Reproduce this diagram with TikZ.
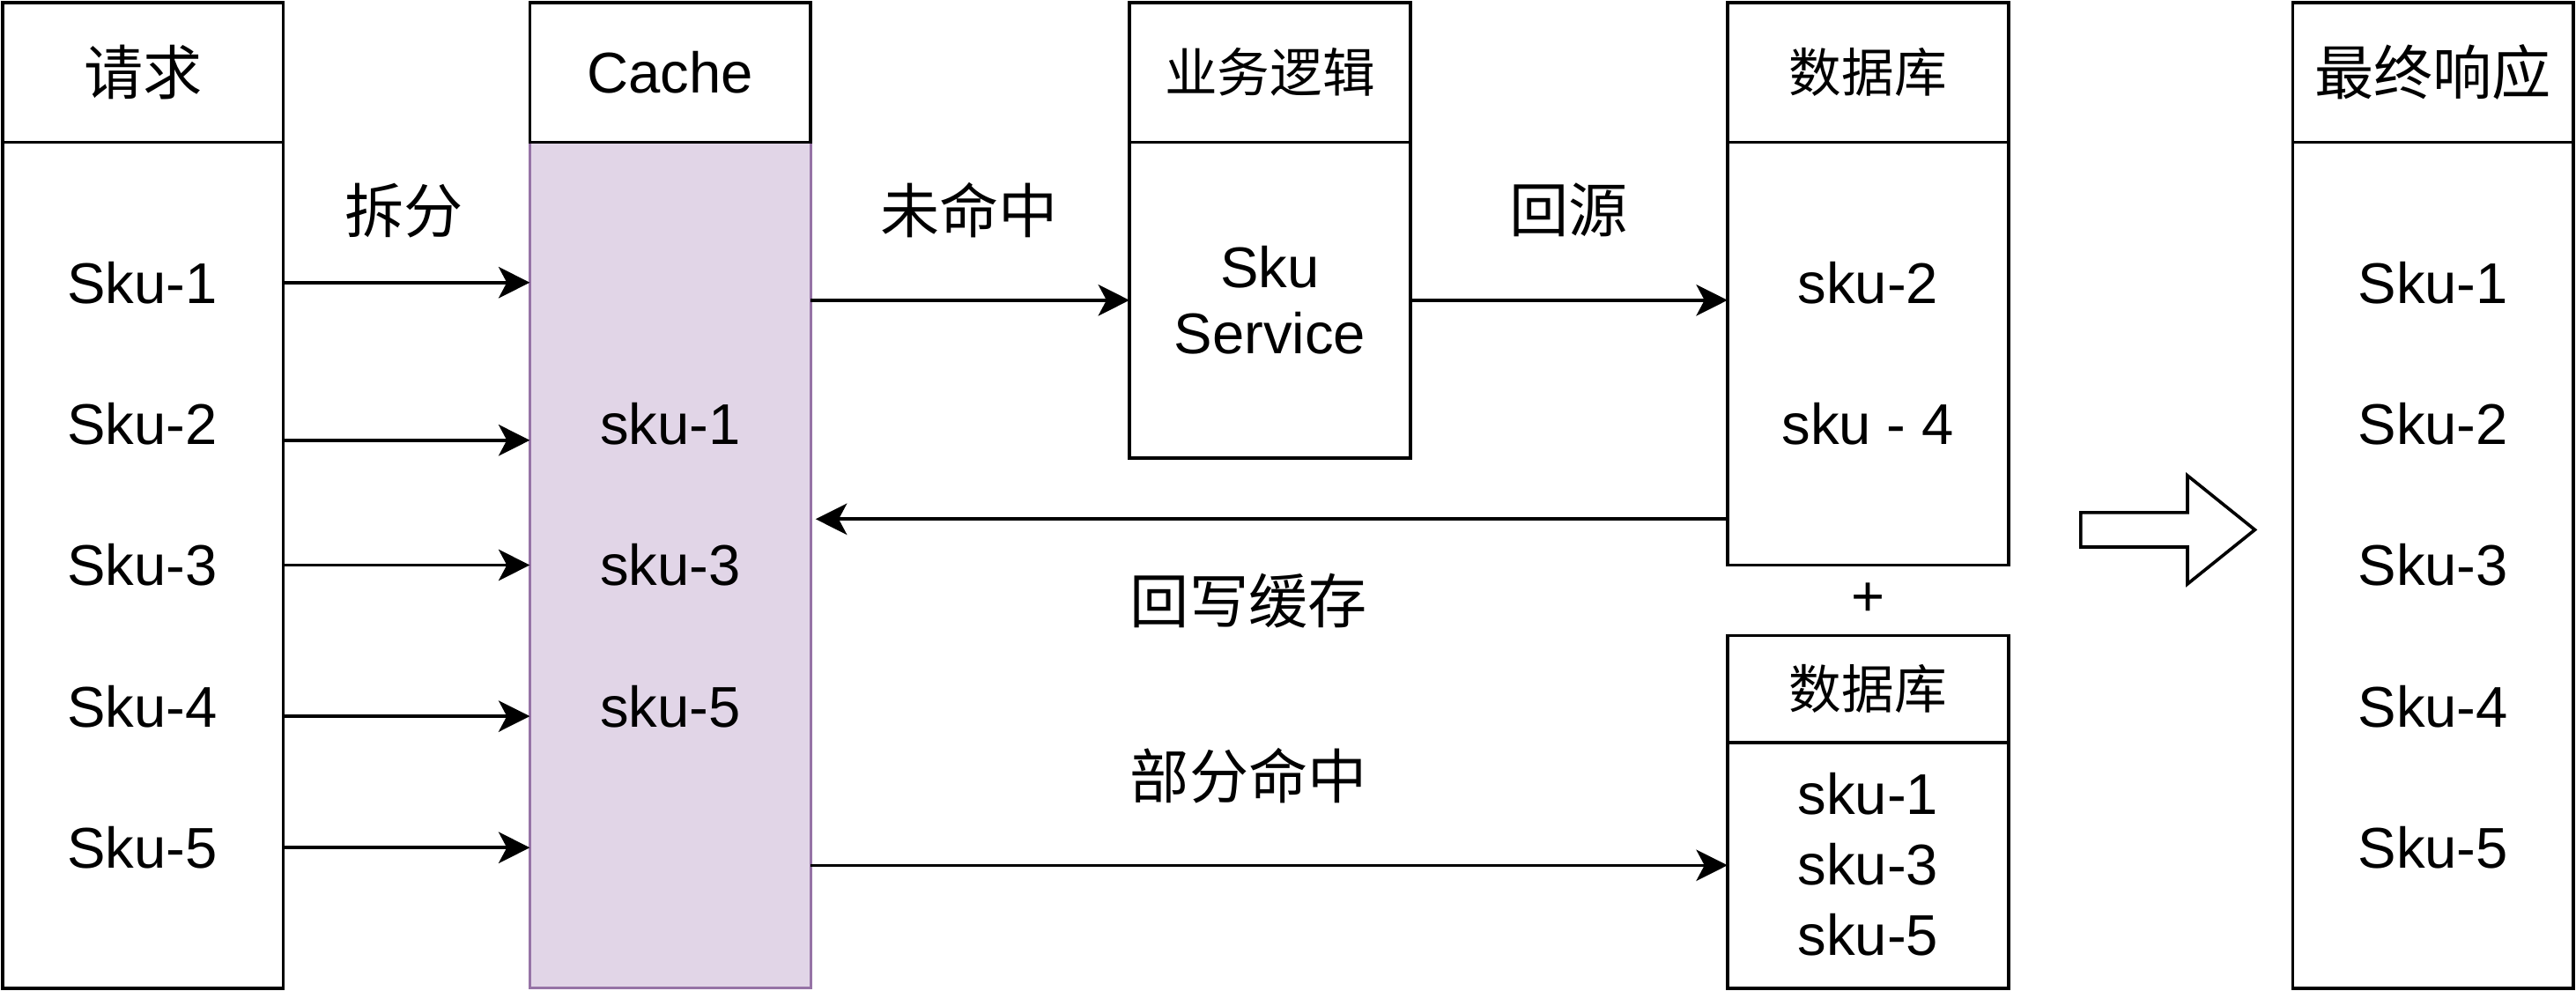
\documentclass[tikz,border=0pt]{standalone}
\usepackage{fontspec}
\setmainfont{Liberation Sans}
\newfontfamily\cjk{Noto Sans CJK SC}
\usepackage{xcolor}
\usetikzlibrary{positioning,arrows.meta}
\definecolor{cacheFill}{HTML}{E1D5E7}
\definecolor{cacheLine}{HTML}{9673A6}

\begin{document}
\begin{tikzpicture}[
    colhead/.style={draw,line width=1.1pt,minimum width=3.42cm,inner sep=0pt,outer sep=0pt,anchor=north west},
    colbody/.style={draw,line width=1.1pt,minimum width=3.42cm,inner sep=0pt,outer sep=0pt},
    flow/.style={line width=1.1pt,-{Stealth[length=0.38cm,width=0.38cm,inset=0.1cm]}},
    lat/.style={font=\fontsize{19.9}{25}\selectfont},
    han/.style={font=\fontsize{20.5}{25}\cjk},
    hansmall/.style={font=\fontsize{18.2}{22}\cjk}
  ]
    \pgfmathsetmacro{\topEdge}{-0.03}
    \pgfmathsetmacro{\headHeight}{1.70}
    \pgfmathsetmacro{\fullBody}{10.30}

    \useasboundingbox (0,0) rectangle (31.36,-12.06);

    % Spalte Anfrage
    \node[colhead,han,minimum height=\headHeight cm] (reqHead) at (0.03,\topEdge) {请求};
    \node[colbody,minimum height=\fullBody cm,below=0pt of reqHead] (reqBody) {};

    % Cache
    \node[colbody,fill=cacheFill,draw=cacheLine,line width=0.8pt,minimum height=\fullBody cm,
      anchor=north] (cacheBody) at (8.16,\topEdge-\headHeight) {};
    \node[colhead,lat,minimum height=\headHeight cm] (cacheHead) at (6.45,\topEdge) {Cache};

    % Service
    \node[colhead,hansmall,minimum height=\headHeight cm] (svcHead) at (13.75,\topEdge) {业务逻辑};
    \node[colbody,lat,align=center,minimum height=3.85cm,below=0pt of svcHead] (svcBody) {Sku\\[-2pt]Service};

    % Datenbank oben
    \node[colhead,hansmall,minimum height=\headHeight cm] (dbHead) at (21.03,\topEdge) {数据库};
    \node[colbody,minimum height=5.15cm,below=0pt of dbHead] (dbBody) {};
    \node[lat] (dbSkuTwo) at (22.74,-3.44) {sku-2};
    \node[lat] (dbSkuFour) at (22.74,-5.16) {sku - 4};
    \node[lat] (plus) at (22.74,-7.30) {+};

    % Datenbank unten
    \node[colhead,hansmall,minimum height=1.30cm] (dbHeadB) at (21.03,-7.74) {数据库};
    \node[colbody,minimum height=2.99cm,below=0pt of dbHeadB] (dbBodyB) {};
    \foreach \i/\y in {1/-9.66,3/-10.52,5/-11.38}
      \node[lat] (dbHit\i) at (22.74,\y) {sku-\i};

    % Antwort
    \node[colhead,han,minimum height=\headHeight cm] (respHead) at (27.91,\topEdge) {最终响应};
    \node[colbody,minimum height=\fullBody cm,below=0pt of respHead] (respBody) {};

    % Eintraege
    \foreach \i/\y in {1/-3.44,2/-5.16,3/-6.88,4/-8.60,5/-10.32} {
      \node[lat] (req\i) at (1.73,\y) {Sku-\i};
      \node[lat] (resp\i) at (29.62,\y) {Sku-\i};
    }
    \foreach \i/\y in {1/-5.16,3/-6.88,5/-8.60}
      \node[lat] (hit\i) at (8.16,\y) {sku-\i};

    % Aufteilen
    \foreach \i/\dy in {1/0,2/-0.2,3/0,4/-0.12,5/0}
      \draw[flow] ([yshift=\dy cm]reqBody.east |- req\i) -- ([yshift=\dy cm]cacheBody.west |- req\i);

    % Fehlschlag und Rueckgriff
    \draw[flow] (cacheBody.east |- svcBody.west) -- (svcBody.west);
    \draw[flow] (svcBody.east) -- (dbBody.west |- svcBody.east);

    % Zurueckschreiben
    \coordinate (wbStart) at ([yshift=0.56cm]dbBody.south west);
    \draw[flow] (wbStart) -- ([xshift=0.06cm]wbStart -| cacheBody.east);

    % Teiltreffer
    \draw[flow] (cacheBody.east |- dbBodyB.west) -- (dbBodyB.west);

    % Beschriftungen
    \node[han] (splitLabel) at (4.92,-2.56) {拆分};
    \node[han] (missLabel) at (11.80,-2.56) {未命中};
    \node[han] (originLabel) at (19.10,-2.56) {回源};
    \node[han] (writeLabel) at (15.20,-7.32) {回写缓存};
    \node[han] (partLabel) at (15.20,-9.44) {部分命中};

    % Ergebnispfeil
    \draw[line width=1.1pt] (25.33,-6.24) -- (26.63,-6.24) -- (26.63,-5.79) -- (27.45,-6.45)
      -- (26.63,-7.11) -- (26.63,-6.66) -- (25.33,-6.66) -- cycle;
  \end{tikzpicture}
\end{document}
